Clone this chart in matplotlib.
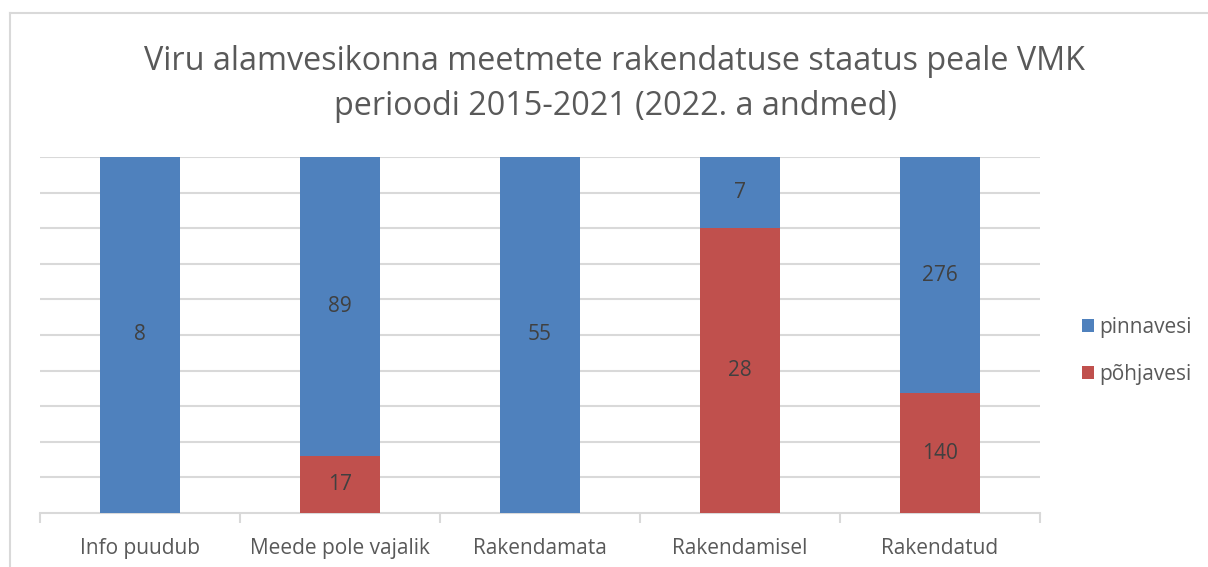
import matplotlib.pyplot as plt
import numpy as np

plt.rcParams['font.family'] = ['Open Sans', 'DejaVu Sans']

categories = ['Info puudub', 'Meede pole vajalik', 'Rakendamata', 'Rakendamisel', 'Rakendatud']
pohjavesi = [0, 17, 0, 28, 140]
pinnavesi = [8, 89, 55, 7, 276]

blue = '#4F81BD'
red = '#C0504D'
grid_c = '#D9D9D9'

fig = plt.figure(figsize=(12.08, 5.67), dpi=100)
ax = fig.add_axes([40/1208, 54/567, 1000/1208, 356/567])

# frame lines of the chart area
fig.add_artist(plt.Line2D([10/1208, 10/1208], [0, 1 - 13/567], color=grid_c, lw=1.5))
fig.add_artist(plt.Line2D([10/1208, 1], [1 - 13/567, 1 - 13/567], color=grid_c, lw=1.5))

p = np.array(pohjavesi, dtype=float)
s = np.array(pinnavesi, dtype=float)
tot = p + s
pp = p / tot * 100
sp = s / tot * 100
x = np.arange(len(categories))

ax.bar(x, pp, 0.4, color=red, label='põhjavesi', zorder=3)
ax.bar(x, sp, 0.4, bottom=pp, color=blue, label='pinnavesi', zorder=3)

for i in range(len(x)):
    if p[i] > 0:
        ax.text(x[i], pp[i] / 2, str(pohjavesi[i]), ha='center', va='center',
                fontsize=15, color='#404040', zorder=4)
    if s[i] > 0:
        ax.text(x[i], pp[i] + sp[i] / 2, str(pinnavesi[i]), ha='center', va='center',
                fontsize=15, color='#404040', zorder=4)

ax.set_xlim(-0.5, len(x) - 0.5)
ax.set_ylim(0, 100)
for y in range(10, 101, 10):
    ax.axhline(y, color=grid_c, lw=1.5, zorder=1)

for sp_name in ['top', 'right', 'left']:
    ax.spines[sp_name].set_visible(False)
ax.spines['bottom'].set_color(grid_c)
ax.spines['bottom'].set_linewidth(1.5)
ax.set_yticks([])
ax.set_xticks(x)
ax.set_xticklabels(categories, fontsize=15, color='#595959')
ax.tick_params(axis='x', which='major', length=0, pad=18)
ax.set_xticks(np.arange(-0.5, len(x), 1), minor=True)
ax.tick_params(axis='x', which='minor', length=7, width=1.5, color=grid_c)

handles, labels = ax.get_legend_handles_labels()
leg = fig.legend(handles[::-1], labels[::-1], loc='center left',
                 bbox_to_anchor=(1063/1208, 1 - 351/567), frameon=False,
                 fontsize=15, handlelength=0.6, handleheight=0.6,
                 handletextpad=0.25, labelspacing=1.25, labelcolor='#595959')

fig.text(615/1208, 1 - 84/567,
         'Viru alamvesikonna meetmete rakendatuse staatus peale VMK\nperioodi 2015-2021 (2022. a andmed)',
         ha='center', va='center', fontsize=23.3, color='#595959', linespacing=1.45)

fig.savefig('out.png', dpi=100)
